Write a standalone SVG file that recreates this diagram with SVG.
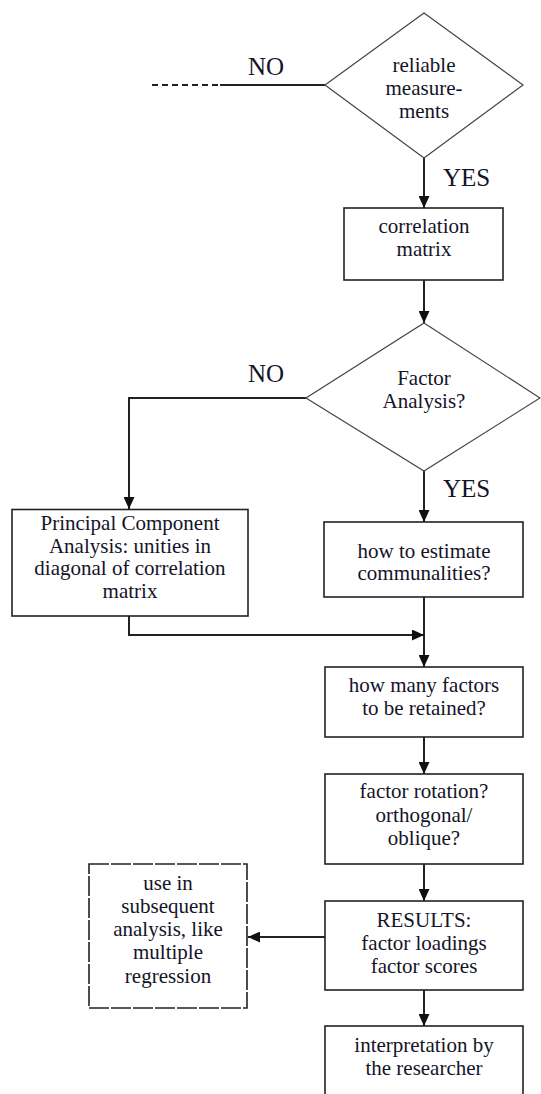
<svg xmlns="http://www.w3.org/2000/svg" width="541" height="1094" viewBox="0 0 541 1094">
<defs>
<marker id="arr" markerWidth="12" markerHeight="11" refX="12" refY="5.5" orient="auto" markerUnits="userSpaceOnUse">
<path d="M0,0 L12,5.5 L0,11 Z" fill="#111"/>
</marker>
<style>
.box{fill:#fff;stroke:#222;stroke-width:1.6}
.dia{fill:#fff;stroke:#444;stroke-width:1.2}
.dash{fill:#fff;stroke:#222;stroke-width:1.6;stroke-dasharray:20 2}
.t{font-size:21px;fill:#141428;text-anchor:middle}
.lbl{font-size:25px;fill:#141428}
.c{fill:none;stroke:#222;stroke-width:2}
</style>
</defs>
<rect width="541" height="1094" fill="#fff"/>
<g font-family="'Liberation Serif', 'DejaVu Serif', serif">
<g id="connectors">
<line x1="152" y1="85" x2="220" y2="85" class="c" stroke-dasharray="6 4" stroke-width="1.6"/>
<line x1="220" y1="85" x2="325" y2="85" class="c" stroke-width="1.6"/>
<line x1="424" y1="158" x2="424" y2="208" class="c" marker-end="url(#arr)"/>
<line x1="424" y1="280" x2="424" y2="323" class="c" marker-end="url(#arr)"/>
<polyline points="306,398 129,398 129,509" class="c" marker-end="url(#arr)"/>
<line x1="424" y1="471" x2="424" y2="522" class="c" marker-end="url(#arr)"/>
<line x1="424" y1="597" x2="424" y2="667" class="c" marker-end="url(#arr)"/>
<polyline points="129,616 129,635 424,635" class="c" marker-end="url(#arr)"/>
<line x1="424" y1="737" x2="424" y2="774" class="c" marker-end="url(#arr)"/>
<line x1="424" y1="864" x2="424" y2="901" class="c" marker-end="url(#arr)"/>
<line x1="325" y1="937" x2="248" y2="937" class="c" stroke="#555" marker-end="url(#arr)"/>
<line x1="424" y1="990" x2="424" y2="1026" class="c" marker-end="url(#arr)"/>
<text x="266" y="75" class="lbl" text-anchor="middle">NO</text>
<text x="443" y="186" class="lbl">YES</text>
<text x="266" y="382" class="lbl" text-anchor="middle">NO</text>
<text x="443" y="497" class="lbl">YES</text>
</g>
<g id="reliable">
<polygon points="424,13 523,85 424,158 325,85" class="dia"/>
<text class="t" x="424" y="72">reliable</text>
<text class="t" x="424" y="95">measure-</text>
<text class="t" x="424" y="118">ments</text>
</g>
<g id="correlation">
<rect x="344" y="208" width="159" height="72" class="box"/>
<text class="t" x="424" y="233">correlation</text>
<text class="t" x="424" y="256">matrix</text>
</g>
<g id="factor-analysis">
<polygon points="424,323 540,398 424,471 306,398" class="dia"/>
<text class="t" x="424" y="385">Factor</text>
<text class="t" x="424" y="408">Analysis?</text>
</g>
<g id="pca">
<rect x="12" y="509.5" width="236" height="106.5" class="box"/>
<text class="t" x="130" y="530">Principal Component</text>
<text class="t" x="130" y="553">Analysis: unities in</text>
<text class="t" x="130" y="575">diagonal of correlation</text>
<text class="t" x="130" y="598">matrix</text>
</g>
<g id="communalities">
<rect x="324" y="522" width="199" height="75" class="box"/>
<text class="t" x="424" y="558">how to estimate</text>
<text class="t" x="424" y="580">communalities?</text>
</g>
<g id="retained">
<rect x="325" y="667" width="198" height="70" class="box"/>
<text class="t" x="424" y="692">how many factors</text>
<text class="t" x="424" y="715">to be retained?</text>
</g>
<g id="rotation">
<rect x="325" y="774" width="198" height="90" class="box"/>
<text class="t" x="424" y="798">factor rotation?</text>
<text class="t" x="424" y="822">orthogonal/</text>
<text class="t" x="424" y="845">oblique?</text>
</g>
<g id="results">
<rect x="325" y="901" width="198" height="89" class="box"/>
<text class="t" x="424" y="927">RESULTS:</text>
<text class="t" x="424" y="950">factor loadings</text>
<text class="t" x="424" y="973">factor scores</text>
</g>
<g id="subsequent">
<rect x="89" y="864" width="158" height="144" class="dash"/>
<text class="t" x="168" y="890">use in</text>
<text class="t" x="168" y="913">subsequent</text>
<text class="t" x="168" y="936">analysis, like</text>
<text class="t" x="168" y="959">multiple</text>
<text class="t" x="168" y="983">regression</text>
</g>
<g id="interpretation">
<rect x="325" y="1026" width="198" height="80" class="box"/>
<text class="t" x="424" y="1052">interpretation by</text>
<text class="t" x="424" y="1075">the researcher</text>
</g>
</g>
</svg>
